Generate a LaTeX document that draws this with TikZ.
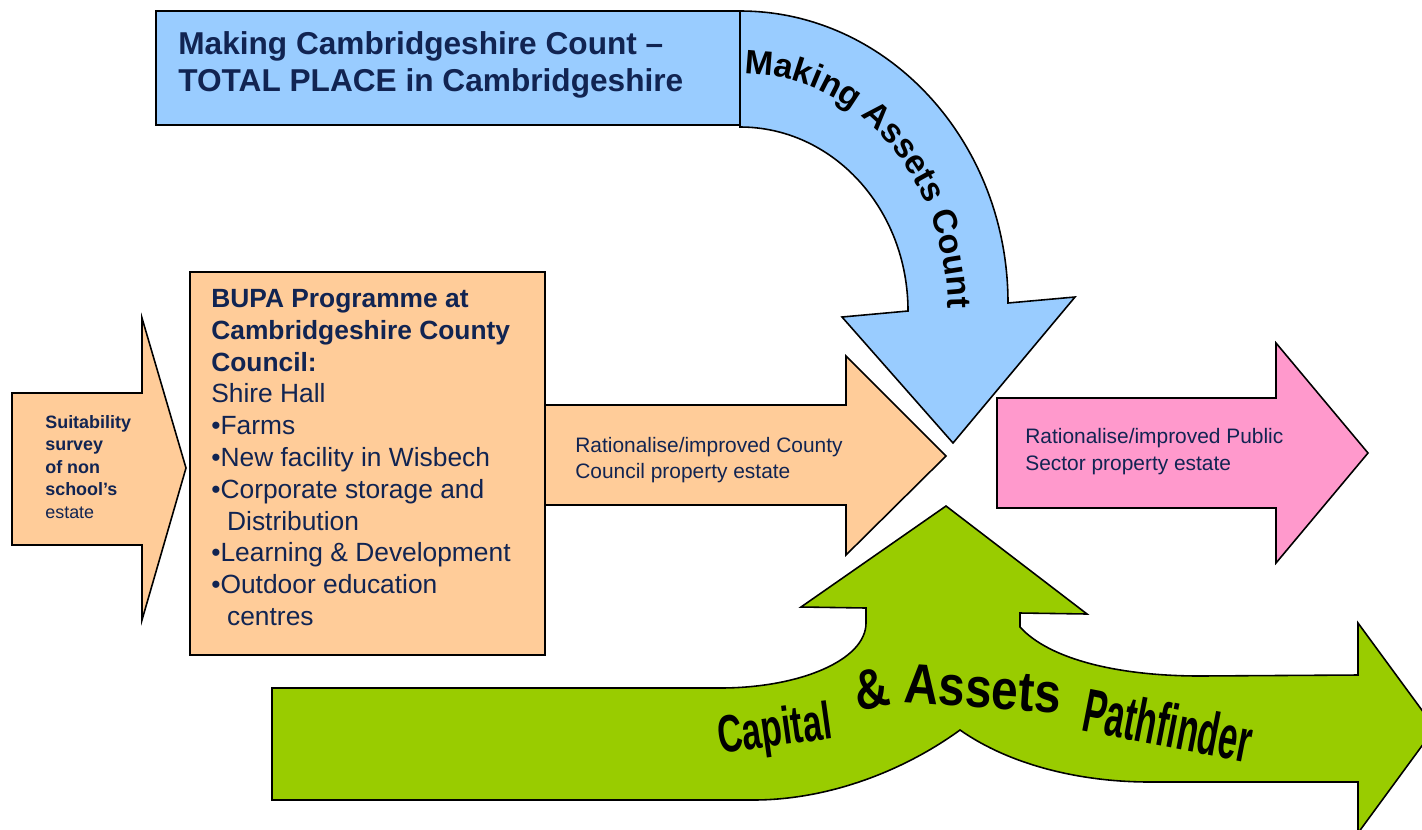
\documentclass[tikz,border=0pt]{standalone}
\usepackage{fontspec}
\setmainfont{Liberation Sans}
\newfontfamily\capfont[FakeStretch=0.65]{Liberation Sans}
\newfontfamily\assetfont[FakeStretch=0.85]{Liberation Sans}
\newfontfamily\pathfont[FakeStretch=0.56]{Liberation Sans}
\usetikzlibrary{decorations.text}

\definecolor{mccblue}{RGB}{153,204,255}
\definecolor{bupaorange}{RGB}{255,204,153}
\definecolor{sectorpink}{RGB}{255,153,204}
\definecolor{pathgreen}{RGB}{153,204,0}
\definecolor{labelnavy}{RGB}{17,36,82}

\begin{document}
\begin{tikzpicture}[x=0.02cm, y=-0.02cm,
    outline/.style={draw=black, line width=0.9pt, line join=miter},
    label/.style={anchor=north west, inner sep=0pt, align=left, text=labelnavy},
    wordart/.style={anchor=base west, inner sep=0pt}]

        % Fix the page and cut off what sticks out
        \useasboundingbox (0,0) rectangle (1422,829);
        \clip (0,0) rectangle (1422,829);

        % Draw the title box
        \draw[outline, fill=mccblue] (156,11) rectangle (740,125);
        \node[label, font=\bfseries\fontsize{18}{21.3}\selectfont] (title) at (178,31)
            {Making Cambridgeshire Count –\\TOTAL PLACE in Cambridgeshire};

        % Draw the bent arrow coming down from the title
        \draw[outline, fill=mccblue] (740,11) .. controls (888,11) and (1008,142) .. (1008,303)
            -- (1075,297) -- (953,443) -- (842,317) -- (908,311)
            .. controls (908,209) and (833,127) .. (740,127) -- cycle;
        \path[decorate, decoration={text along path, text align=left,
            text={|\bfseries\fontsize{19.3}{20}\selectfont|Making Assets Count}}]
            (744,74) .. controls (857,74) and (948,180) .. (948,311) -- (948,360);

        % Draw the survey arrow
        \draw[outline, fill=bupaorange] (12,393) -- (142,393) -- (142,318) -- (186,468)
            -- (142,620) -- (142,545) -- (12,545) -- cycle;
        \node[label, font=\fontsize{10.2}{12.8}\selectfont] (survey) at (45,415)
            {\textbf{Suitability}\\\textbf{survey}\\\textbf{of non}\\\textbf{school’s}\\estate};

        % Draw the BUPA box
        \draw[outline, fill=bupaorange] (190,272) rectangle (545,655);
        \node[label, font=\fontsize{15}{18.1}\selectfont] (bupa) at (211,289)
            {\textbf{BUPA Programme at}\\\textbf{Cambridgeshire County}\\\textbf{Council:}\\
             Shire Hall\\•Farms\\•New facility in Wisbech\\•Corporate storage and\\
             \hspace*{0.6em}Distribution\\•Learning \& Development\\•Outdoor education\\
             \hspace*{0.6em}centres};

        % Draw the County Council arrow
        \draw[outline, fill=bupaorange] (545,405) -- (846,405) -- (846,356) -- (946,456)
            -- (846,555) -- (846,505) -- (545,505) -- cycle;
        \node[label, font=\fontsize{11.9}{14.8}\selectfont] (county) at (575,437)
            {Rationalise/improved County\\Council property estate};

        % Draw the Public Sector arrow
        \draw[outline, fill=sectorpink] (997,398) -- (1276,398) -- (1276,343) -- (1368,453)
            -- (1276,563) -- (1276,508) -- (997,508) -- cycle;
        \node[label, font=\fontsize{11.9}{15.2}\selectfont] (public) at (1025,428)
            {Rationalise/improved Public\\Sector property estate};

        % Draw the Pathfinder arrow with its branch going up
        \draw[outline, fill=pathgreen] (272,688) -- (720,688)
            .. controls (800,688) and (866,660) .. (866,623)
            -- (866,608) -- (801,607) -- (946,506) -- (1087,614) -- (1020,613) -- (1020,627)
            .. controls (1050,660) and (1120,676) .. (1200,676) -- (1358,675) -- (1358,623)
            -- (1435,728) -- (1358,833) -- (1358,782) -- (1150,782)
            .. controls (1080,782) and (1010,765) .. (960,730)
            .. controls (905,770) and (830,800) .. (753,800) -- (272,800) -- cycle;
        \node[wordart, rotate=8, font=\capfont\bfseries\fontsize{30}{30}\selectfont]
            (capital) at (720,754) {Capital};
        \node[wordart, rotate=12, font=\assetfont\bfseries\fontsize{32}{32}\selectfont]
            (amp) at (858,712) {\&};
        \node[wordart, rotate=-4, font=\assetfont\bfseries\fontsize{32}{32}\selectfont]
            (assets) at (903,702) {Assets};
        \node[wordart, rotate=-11, font=\pathfont\bfseries\fontsize{35}{35}\selectfont]
            (pathfinder) at (1080,730) {Pathfinder};
    \end{tikzpicture}
\end{document}
